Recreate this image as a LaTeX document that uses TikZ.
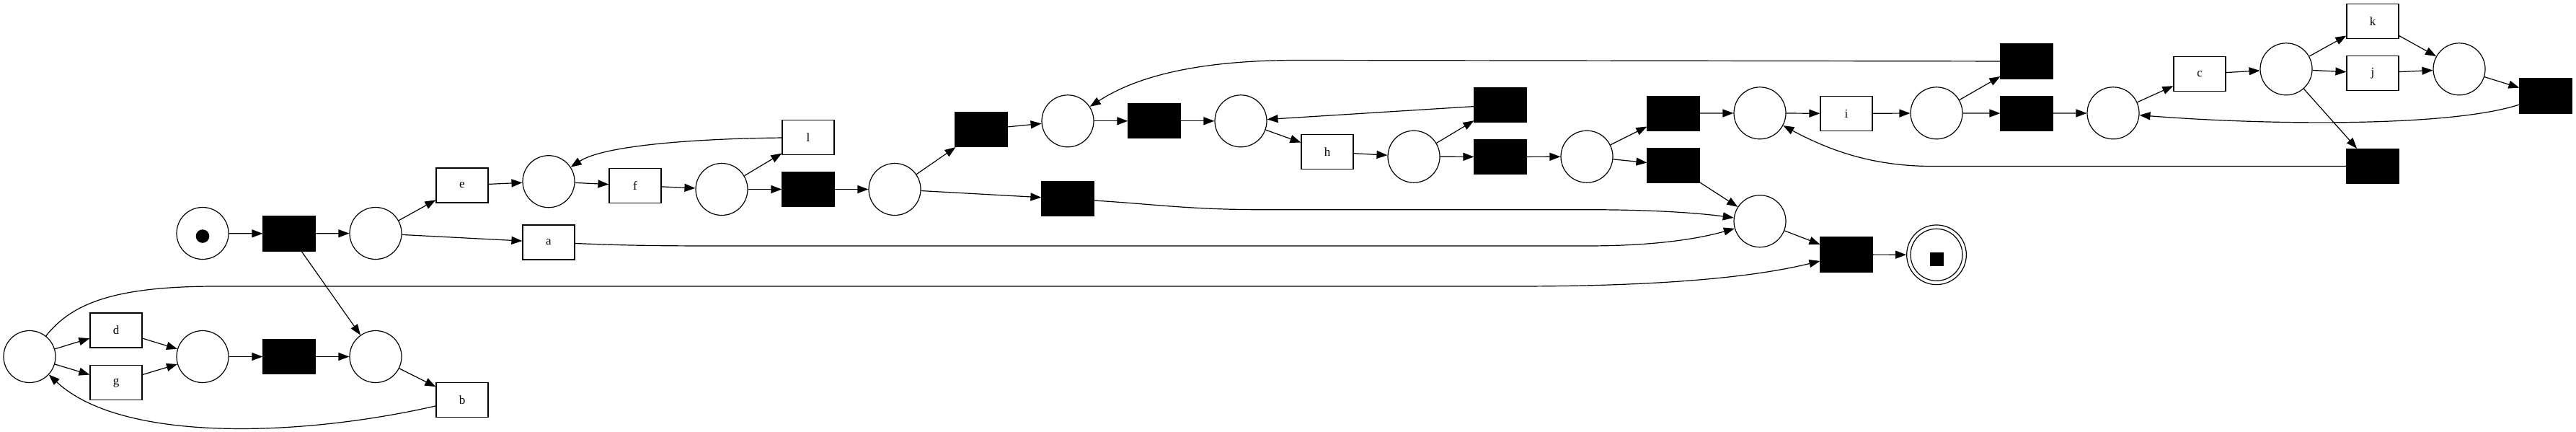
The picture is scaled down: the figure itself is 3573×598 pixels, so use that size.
\documentclass[tikz,border=0pt]{standalone}
\usepackage{xcolor}
\usepackage{tikz}
\usepackage{fontspec}
\setmainfont{Liberation Serif}
\usetikzlibrary{arrows.meta}

\begin{document}
\begin{tikzpicture}[x=1pt,y=-1pt]
        % Define styles
        \tikzset{
            place/.style={circle, draw, line width=1.2pt, minimum size=72pt, inner sep=0pt},
            activity/.style={rectangle, draw, line width=1.2pt, minimum width=72pt, minimum height=48pt, inner sep=0pt, font=\fontsize{17}{20}\selectfont},
            silent/.style={rectangle, draw, fill=black, line width=1.2pt, minimum width=72pt, minimum height=48pt},
            arrow/.style={->,>={Triangle[length=15pt,width=11pt]}, line width=1.2pt}
        }
        \useasboundingbox (0,0) rectangle (3573,598);

        % Nodes
        \node[place] (place_node_0) at (41,494.5) {};
        \node[activity] (activity_node_d) at (161,458) {d};
        \node[activity] (activity_node_g) at (161,530.5) {g};
        \node[place] (place_source) at (281,323.5) {};
        \node[place] (place_node_1) at (281,494.5) {};
        \node[silent] (silent_node_1) at (401,324) {};
        \node[silent] (silent_node_2) at (401,494.5) {};
        \node[place] (place_node_2) at (521,323.5) {};
        \node[place] (place_node_3) at (521,494.5) {};
        \node[activity] (activity_node_e) at (641,257) {e};
        \node[activity] (activity_node_b) at (641,554.5) {b};
        \node[place] (place_node_4) at (761,251.7) {};
        \node[activity] (activity_node_a) at (761,336) {a};
        \node[activity] (activity_node_f) at (881,257.3) {f};
        \node[place] (place_node_5) at (1001,262.5) {};
        \node[activity] (activity_node_l) at (1121,190.7) {l};
        \node[silent] (silent_node_3) at (1121,262.5) {};
        \node[place] (place_node_6) at (1241,262.5) {};
        \node[silent] (silent_node_4) at (1361,179.5) {};
        \node[place] (place_node_7) at (1481,167.8) {};
        \node[silent] (silent_node_5) at (1481,275.8) {};
        \node[silent] (silent_node_6) at (1601,167.8) {};
        \node[place] (place_node_8) at (1721,167.8) {};
        \node[activity] (activity_node_h) at (1841,210.7) {h};
        \node[place] (place_node_9) at (1961,217.2) {};
        \node[silent] (silent_node_7) at (2081,145.3) {};
        \node[silent] (silent_node_8) at (2081,217.5) {};
        \node[place] (place_node_10) at (2201,217.2) {};
        \node[silent] (silent_node_9) at (2321,157.2) {};
        \node[silent] (silent_node_10) at (2321,229.2) {};
        \node[place] (place_node_11) at (2441,156.8) {};
        \node[place] (place_node_12) at (2441,306.7) {};
        \node[activity] (activity_node_i) at (2561,157.5) {i};
        \node[silent] (silent_node_11) at (2561,353) {};
        \node[place] (place_node_13) at (2686,156.8) {};
        \node[place, minimum size=82.7pt] (place_sink) at (2686,353.3) {};
        \node[silent] (silent_node_12) at (2811,85) {};
        \node[silent] (silent_node_13) at (2811,157.2) {};
        \node[place] (place_node_14) at (2931,156.8) {};
        \node[activity] (activity_node_c) at (3051,102.7) {c};
        \node[place] (place_node_15) at (3171,95.8) {};
        \node[activity] (activity_node_k) at (3291,29.2) {k};
        \node[activity] (activity_node_j) at (3291,101.3) {j};
        \node[silent] (silent_node_14) at (3291,230.5) {};
        \node[place] (place_node_16) at (3411,95.8) {};
        \node[silent] (silent_node_15) at (3531,133) {};

        % Tokens
        \fill (place_source.center) ++(0,4) circle[radius=9.3pt];
        \draw[line width=1.2pt] (place_sink.center) circle[radius=36pt];
        \fill (place_sink.center) ++(-9.5,-3) rectangle ++(19,19);

        % Arrows
        \draw[arrow] (place_source) -- (silent_node_1);
        \draw[arrow] (silent_node_1) -- (place_node_2);
        \draw[arrow] (silent_node_1) -- (place_node_3);
        \draw[arrow] (place_node_2) -- (activity_node_e);
        \draw[arrow] (place_node_2) -- (activity_node_a);
        \draw[arrow] (activity_node_e) -- (place_node_4);
        \draw[arrow] (place_node_4) -- (activity_node_f);
        \draw[arrow] (activity_node_f) -- (place_node_5);
        \draw[arrow] (place_node_5) -- (activity_node_l);
        \draw[arrow] (place_node_5) -- (silent_node_3);
        \draw[arrow] (activity_node_l) .. controls (980,192) and (840,200) .. (place_node_4);
        \draw[arrow] (silent_node_3) -- (place_node_6);
        \draw[arrow] (place_node_6) -- (silent_node_4);
        \draw[arrow] (place_node_6) -- (silent_node_5);
        \draw[arrow] (silent_node_4) -- (place_node_7);
        \draw[arrow] (place_node_7) -- (silent_node_6);
        \draw[arrow] (silent_node_6) -- (place_node_8);
        \draw[arrow] (place_node_8) -- (activity_node_h);
        \draw[arrow] (activity_node_h) -- (place_node_9);
        \draw[arrow] (place_node_9) -- (silent_node_7);
        \draw[arrow] (place_node_9) -- (silent_node_8);
        \draw[arrow] (silent_node_7) -- (place_node_8);
        \draw[arrow] (silent_node_8) -- (place_node_10);
        \draw[arrow] (place_node_10) -- (silent_node_9);
        \draw[arrow] (place_node_10) -- (silent_node_10);
        \draw[arrow] (silent_node_9) -- (place_node_11);
        \draw[arrow] (silent_node_10) -- (place_node_12);
        \draw[arrow] (place_node_11) -- (activity_node_i);
        \draw[arrow] (activity_node_i) -- (place_node_13);
        \draw[arrow] (place_node_13) -- (silent_node_12);
        \draw[arrow] (place_node_13) -- (silent_node_13);
        \draw[arrow] (silent_node_12) -- (1800,83.5) .. controls (1650,83.5) and (1570,110) .. (place_node_7);
        \draw[arrow] (silent_node_13) -- (place_node_14);
        \draw[arrow] (place_node_14) -- (activity_node_c);
        \draw[arrow] (activity_node_c) -- (place_node_15);
        \draw[arrow] (place_node_15) -- (activity_node_k);
        \draw[arrow] (place_node_15) -- (activity_node_j);
        \draw[arrow] (place_node_15) -- (silent_node_14);
        \draw[arrow] (activity_node_k) -- (place_node_16);
        \draw[arrow] (activity_node_j) -- (place_node_16);
        \draw[arrow] (place_node_16) -- (silent_node_15);
        \draw[arrow] (silent_node_15) .. controls (3400,176) and (3150,174) .. (place_node_14);
        \draw[arrow] (silent_node_14) -- (2680,230.5) .. controls (2600,230.5) and (2540,210) .. (place_node_11);
        \draw[arrow] (activity_node_a) .. controls (860,340) and (900,341) .. (1000,341) -- (2200,341) .. controls (2300,341) and (2360,330) .. (place_node_12);
        \draw[arrow] (silent_node_5) .. controls (1600,283) and (1650,290.7) .. (1750,290.7) -- (2200,290.7) .. controls (2300,290.7) and (2360,296) .. (place_node_12);
        \draw[arrow] (place_node_12) -- (silent_node_11);
        \draw[arrow] (silent_node_11) -- (place_sink);
        \draw[arrow] (place_node_0) -- (activity_node_d);
        \draw[arrow] (place_node_0) -- (activity_node_g);
        \draw[arrow] (place_node_0) .. controls (100,420) and (160,397) .. (300,397) -- (2100,397) .. controls (2300,397) and (2430,385) .. (silent_node_11);
        \draw[arrow] (activity_node_d) -- (place_node_1);
        \draw[arrow] (activity_node_g) -- (place_node_1);
        \draw[arrow] (place_node_1) -- (silent_node_2);
        \draw[arrow] (silent_node_2) -- (place_node_3);
        \draw[arrow] (place_node_3) -- (activity_node_b);
        \draw[arrow] (activity_node_b) .. controls (420,605) and (170,615) .. (place_node_0);
    \end{tikzpicture}
\end{document}
